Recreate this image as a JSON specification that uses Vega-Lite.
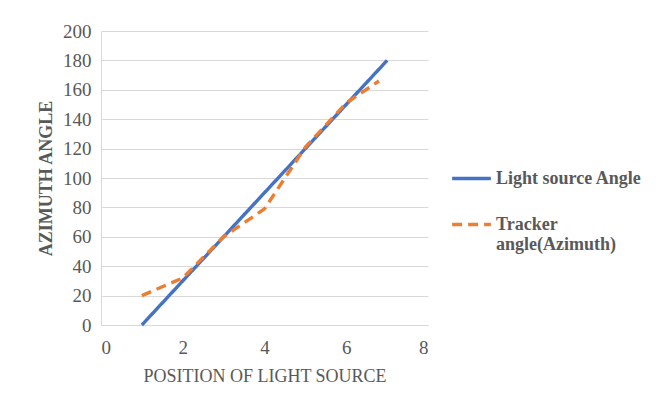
{
  "$schema": "https://vega.github.io/schema/vega-lite/v6.json",
  "width": 327,
  "height": 294,
  "autosize": {"type": "none"},
  "padding": {"left": 101, "top": 31, "right": 234, "bottom": 82},
  "background": "white",
  "data": {
    "values": [
      {"pos": 1, "angle": 0, "series": "Light source Angle"},
      {"pos": 2, "angle": 30, "series": "Light source Angle"},
      {"pos": 3, "angle": 60, "series": "Light source Angle"},
      {"pos": 4, "angle": 90, "series": "Light source Angle"},
      {"pos": 5, "angle": 120, "series": "Light source Angle"},
      {"pos": 6, "angle": 150, "series": "Light source Angle"},
      {"pos": 7, "angle": 180, "series": "Light source Angle"},
      {"pos": 1, "angle": 20, "series": "Tracker angle(Azimuth)"},
      {"pos": 2, "angle": 32, "series": "Tracker angle(Azimuth)"},
      {"pos": 3, "angle": 60, "series": "Tracker angle(Azimuth)"},
      {"pos": 4, "angle": 79, "series": "Tracker angle(Azimuth)"},
      {"pos": 5, "angle": 121, "series": "Tracker angle(Azimuth)"},
      {"pos": 6, "angle": 151, "series": "Tracker angle(Azimuth)"},
      {"pos": 6.8, "angle": 166, "series": "Tracker angle(Azimuth)"}
    ]
  },
  "mark": {"type": "line", "strokeWidth": 3.4},
  "encoding": {
    "x": {
      "field": "pos", "type": "quantitative",
      "scale": {"domain": [0, 8], "nice": false},
      "axis": {"values": [0, 2, 4, 6, 8], "title": "POSITION OF LIGHT SOURCE", "grid": false, "ticks": false, "labelPadding": 13, "titlePadding": 10}
    },
    "y": {
      "field": "angle", "type": "quantitative",
      "scale": {"domain": [0, 200], "nice": false},
      "axis": {"values": [0, 20, 40, 60, 80, 100, 120, 140, 160, 180, 200], "title": "AZIMUTH ANGLE", "ticks": false, "labelPadding": 10, "titlePadding": 7}
    },
    "color": {
      "field": "series", "type": "nominal",
      "scale": {"domain": ["Light source Angle", "Tracker angle(Azimuth)"], "range": ["#4472C4", "#ED7D31"]},
      "legend": {
        "title": null,
        "orient": "none",
        "legendX": 349,
        "legendY": 126,
        "symbolType": "stroke",
        "symbolSize": 1500,
        "symbolStrokeWidth": 3.5,
        "rowPadding": 15,
        "labelFont": "Liberation Serif",
        "labelFontSize": 18,
        "labelFontWeight": "bold",
        "labelLineHeight": 17,
        "labelColor": "#595959",
        "labelOffset": 3,
        "labelLimit": 250,
        "labelExpr": "datum.label == 'Tracker angle(Azimuth)' ? ['Tracker', 'angle(Azimuth)'] : datum.label",
        "labelBaseline": "middle"
      }
    },
    "strokeDash": {
      "field": "series", "type": "nominal",
      "scale": {"domain": ["Light source Angle", "Tracker angle(Azimuth)"], "range": [[1, 0], [10, 6]]},
      "legend": null
    }
  },
  "config": {
    "view": {"stroke": null},
    "axis": {
      "labelFont": "Liberation Serif",
      "labelFontSize": 19,
      "labelColor": "#595959",
      "titleFont": "Liberation Serif",
      "titleFontSize": 18,
      "titleColor": "#595959",
      "gridColor": "#d9d9d9",
      "domainColor": "#d9d9d9"
    },
    "axisY": {"titleFontWeight": "bold", "domain": true},
    "axisX": {"titleFontWeight": "normal"}
  }
}
